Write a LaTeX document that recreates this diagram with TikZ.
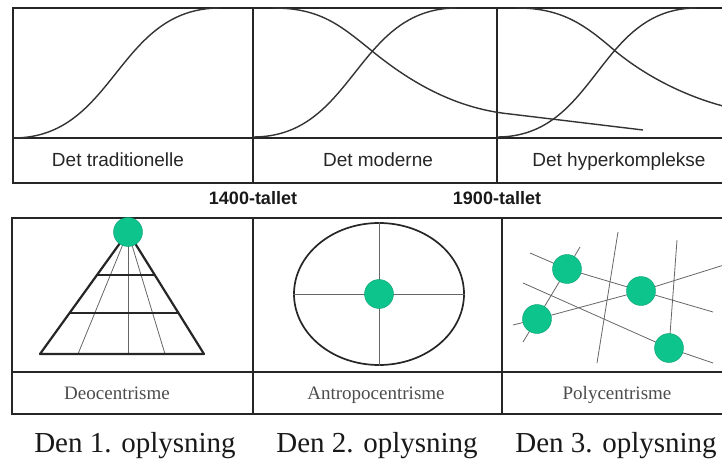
\documentclass[tikz,border=0pt]{standalone}
\usepackage{fontspec}
\setmainfont{Liberation Serif}
\setsansfont{Liberation Sans}
\usetikzlibrary{calc,shapes.geometric}
\definecolor{dotgreen}{RGB}{12,196,140}
\begin{document}
\begin{tikzpicture}[x=1pt,y=-1pt,
  frame/.style={line width=1.7pt, draw=black!85},
  curve/.style={line width=1.4pt, draw=black!80},
  fine/.style={line width=0.8pt, draw=black!60},
  pyr/.style={line width=2.2pt, draw=black!85},
  dot/.style={circle, fill=dotgreen, draw=dotgreen!80!black, line width=0.4pt,
              minimum size=29pt, inner sep=0pt},
  toplabel/.style={font=\sffamily\fontsize{19}{19}\selectfont, anchor=base, text=black!85},
  era/.style={font=\sffamily\bfseries\fontsize{18}{18}\selectfont, anchor=base, text=black!90},
  centre/.style={font=\rmfamily\fontsize{19}{19}\selectfont, anchor=base, text=black!70},
  big/.style={font=\rmfamily\fontsize{29}{29}\selectfont, anchor=base, text=black!90}]
\useasboundingbox (0,0) rectangle (722,462);
\begin{scope}
\clip (0,0) rectangle (722,462);

% ---- upper table: the three curves of society types ----
\draw[frame] (760,8) -- (13,8) -- (13,183) -- (760,183);
\draw[frame] (13,138) -- (760,138);
\draw[frame] (253,8) -- (253,183);
\draw[frame] (497,8) -- (497,183);

\draw[curve] (13,138) .. controls (116,138) and (116,8) .. (220,8);
\draw[curve] (253,137) .. controls (355,137) and (355,8) .. (457,8);
\draw[curve] (273,8) .. controls (320,8) and (340,25) .. (372,51)
             .. controls (404,77) and (450,108) .. (510,114) -- (643,130);
\draw[curve] (497,137) .. controls (597,137) and (597,8) .. (697,8);
\draw[curve] (517,8) .. controls (562,8) and (585,25) .. (614,50)
             .. controls (645,76) and (690,100) .. (740,110);

\node[toplabel] (trad) at (118,167) {Det traditionelle};
\node[toplabel] (mod)  at (378,167) {Det moderne};
\node[toplabel] (hyp)  at (619,167) {Det hyperkomplekse};

\node[era] (t1400) at (253,205) {1400-tallet};
\node[era] (t1900) at (497,205) {1900-tallet};

% ---- lower table: the three centre models ----
\draw[frame] (760,218) -- (12,218) -- (12,414) -- (760,414);
\draw[frame] (12,372) -- (760,372);
\draw[frame] (253,218) -- (253,414);
\draw[frame] (502,218) -- (502,414);

% pyramid
\coordinate (apex) at (128,232);
\coordinate (bl) at (40,354);
\coordinate (br) at (204,354);
\coordinate (r1) at (78,354);
\coordinate (r2) at (128,354);
\coordinate (r3) at (165,354);
\draw[fine] (apex) -- (r1);
\draw[fine] (apex) -- (r2);
\draw[fine] (apex) -- (r3);
\draw[pyr, line join=round] (apex) -- (bl) -- (br) -- cycle;
\draw[pyr] ($(apex)!0.352!(bl)$) -- ($(apex)!0.352!(br)$);
\draw[pyr] ($(apex)!0.664!(bl)$) -- ($(apex)!0.664!(br)$);
\node[dot] (god) at (apex) {};

% ellipse with cross
\node[ellipse, draw=black!85, line width=1.7pt, minimum width=170pt,
      minimum height=142pt, inner sep=0pt] (oval) at (379,294) {};
\draw[fine] (oval.north) -- (oval.south);
\draw[fine] (oval.west) -- (oval.east);
\node[dot] (man) at (oval.center) {};

% network of several centres
\coordinate (c1) at (567,269);
\coordinate (c2) at (641,291);
\coordinate (c3) at (537,319);
\coordinate (c4) at (669,348);
\coordinate (a1) at (530,253);
\coordinate (a2) at (713,312);
\coordinate (b1) at (523,283);
\coordinate (b2) at (713,363);
\coordinate (d1) at (513,325);
\coordinate (d2) at (724,265);
\coordinate (e1) at (580,247);
\coordinate (e2) at (523,342);
\coordinate (f1) at (618,232);
\coordinate (f2) at (597,363);
\coordinate (g1) at (677,240);
\draw[fine] (a1) -- (c1) -- (c2) -- (a2);
\draw[fine] (b1) -- (c4) -- (b2);
\draw[fine] (d1) -- (c3) -- (c2) -- (d2);
\draw[fine] (e1) -- (c1) -- (c3) -- (e2);
\draw[fine] (f1) -- (f2);
\draw[fine] (g1) -- (c4);
\node[dot] (p1) at (c1) {};
\node[dot] (p2) at (c2) {};
\node[dot] (p3) at (c3) {};
\node[dot] (p4) at (c4) {};

\node[centre] (deo) at (117,399) {Deocentrisme};
\node[centre] (antro) at (376,399) {Antropocentrisme};
\node[centre] (poly) at (617,399) {Polycentrisme};

% ---- captions ----
\node[big] (op1) at (135,452) {Den 1. oplysning};
\node[big] (op2) at (377,452) {Den 2. oplysning};
\node[big] (op3) at (616,452) {Den 3. oplysning};
\end{scope}
\end{tikzpicture}
\end{document}
